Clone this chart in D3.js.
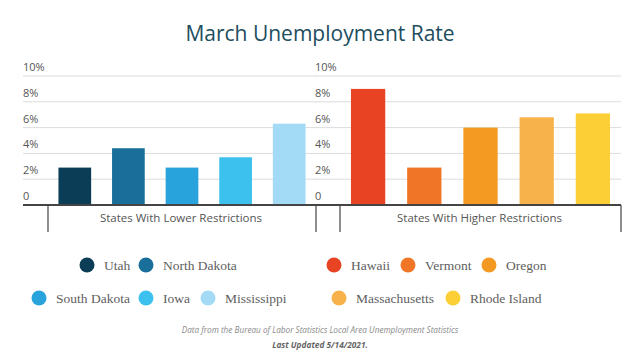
<!DOCTYPE html>
<html><head><meta charset="utf-8">
<script src="https://cdn.jsdelivr.net/npm/d3@7"></script>
<style>body{margin:0;background:#fff}svg{display:block}</style>
</head><body><svg id="c" width="640" height="360"></svg>
<script>
const lowerStates = ["Utah","North Dakota","South Dakota","Iowa","Mississippi"];
const lowerValues = [2.9,4.4,2.9,3.7,6.3];
const lowerColors = ["#0b3d57","#1a6f9a","#29a3dc","#3cc1ef","#a3dbf6"];
const higherStates = ["Hawaii","Vermont","Oregon","Massachusetts","Rhode Island"];
const higherValues = [9.0,2.9,6.0,6.8,7.1];
const higherColors = ["#e84424","#f07526","#f49a22","#f8b24b","#fccf36"];
const yTicks = [0,2,4,6,8,10];
const groupLabels = ["States With Lower Restrictions","States With Higher Restrictions"];

const svg = d3.select("#c");
svg.append("text").attr("x",320).attr("y",41).attr("text-anchor","middle")
  .attr("font-family","'Open Sans',sans-serif").attr("font-size",21).attr("fill","#1d4d5e")
  .text("March Unemployment Rate");

const y = d3.scaleLinear().domain([0,10]).range([205,76]);

const panels = [
  {states:lowerStates, values:lowerValues, colors:lowerColors, axisX:23, bandL:48, bandR:316, label:groupLabels[0]},
  {states:higherStates, values:higherValues, colors:higherColors, axisX:315, bandL:340, bandR:621, label:groupLabels[1]}
];

panels.forEach(p => {
  const g = svg.append("g");
  const x = d3.scaleBand().domain(p.states).range([p.bandL,p.bandR]).paddingInner(0.39).paddingOuter(0.195);
  g.selectAll("line.grid").data(yTicks.filter(t=>t>0)).join("line")
    .attr("x1",p.axisX).attr("x2",p.bandR).attr("y1",d=>y(d)).attr("y2",d=>y(d))
    .attr("stroke","#dcdcdc").attr("stroke-width",1);
  g.selectAll("text.tick").data(yTicks).join("text")
    .attr("x",p.axisX).attr("y",d=>y(d)-5)
    .attr("font-family","'Open Sans',sans-serif").attr("font-size",11).attr("fill","#555")
    .text(d=>d===0?"0":d+"%");
  g.selectAll("rect").data(p.states).join("rect")
    .attr("x",d=>x(d)).attr("width",x.bandwidth())
    .attr("y",(d,i)=>y(p.values[i])).attr("height",(d,i)=>y(0)-y(p.values[i]))
    .attr("fill",(d,i)=>p.colors[i]);
  g.append("line").attr("x1",p.axisX).attr("x2",p.bandR).attr("y1",205).attr("y2",205)
    .attr("stroke","#444").attr("stroke-width",2);
  [p.bandL,p.bandR].forEach(xx=>g.append("line").attr("x1",xx).attr("x2",xx).attr("y1",205).attr("y2",232)
    .attr("stroke","#444").attr("stroke-width",1.2));
  g.append("text").attr("x",(p.bandL+p.bandR)/2 - 1).attr("y",222).attr("text-anchor","middle")
    .attr("font-family","'Open Sans',sans-serif").attr("font-size",11.5).attr("fill","#555").text(p.label);
});

const legend = [
  {name:lowerStates[0], color:lowerColors[0], cx:87, row:0},
  {name:lowerStates[1], color:lowerColors[1], cx:146, row:0},
  {name:lowerStates[2], color:lowerColors[2], cx:39, row:1},
  {name:lowerStates[3], color:lowerColors[3], cx:146, row:1},
  {name:lowerStates[4], color:lowerColors[4], cx:208, row:1},
  {name:higherStates[0], color:higherColors[0], cx:334, row:0},
  {name:higherStates[1], color:higherColors[1], cx:408, row:0},
  {name:higherStates[2], color:higherColors[2], cx:489, row:0},
  {name:higherStates[3], color:higherColors[3], cx:339, row:1},
  {name:higherStates[4], color:higherColors[4], cx:453, row:1}
];
const rowY = [265,298];
const lg = svg.append("g");
lg.selectAll("circle").data(legend).join("circle")
  .attr("cx",d=>d.cx).attr("cy",d=>rowY[d.row]).attr("r",7.5).attr("fill",d=>d.color);
lg.selectAll("text").data(legend).join("text")
  .attr("x",d=>d.cx+17).attr("y",d=>rowY[d.row]+4.5)
  .attr("font-family","'Liberation Serif',serif").attr("font-size",13.5).attr("fill","#606060")
  .text(d=>d.name);

svg.append("text").attr("x",320).attr("y",333).attr("text-anchor","middle")
  .attr("font-family","'Open Sans',sans-serif").attr("font-style","italic").attr("font-size",8.2).attr("fill","#8a8a8a")
  .text("Data from the Bureau of Labor Statistics Local Area Unemployment Statistics");
svg.append("text").attr("x",320).attr("y",348).attr("text-anchor","middle")
  .attr("font-family","'Open Sans',sans-serif").attr("font-style","italic").attr("font-weight","bold").attr("font-size",8.3).attr("fill","#666")
  .text("Last Updated 5/14/2021.");
</script></body></html>
